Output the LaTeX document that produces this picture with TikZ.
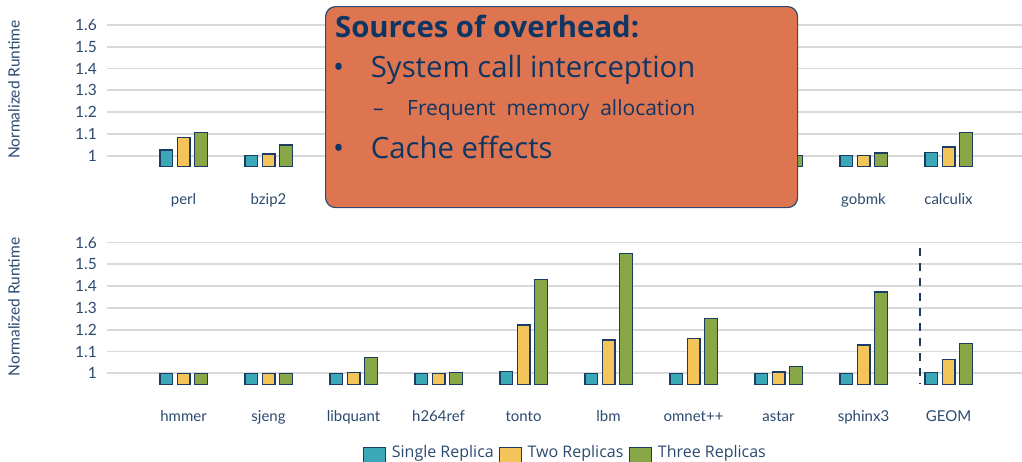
\documentclass[tikz,border=0pt]{standalone}
\usepackage{fontspec}
\setmainfont{Open Sans}
\newfontfamily\chartfont{Lato}
\usetikzlibrary{positioning}
\definecolor{single}{HTML}{3AA8B6}
\definecolor{two}{HTML}{F2C45A}
\definecolor{three}{HTML}{88A847}
\definecolor{baredge}{HTML}{1D3C64}
\definecolor{gridgray}{HTML}{D9D9D9}
\definecolor{chartblue}{HTML}{2B4A70}
\definecolor{boxfill}{HTML}{DD7650}
\definecolor{boxedge}{HTML}{2F4A6E}
\definecolor{boxtext}{HTML}{0F3564}
\tikzstyle{every node}+=[inner sep=0pt,text=chartblue]
\tikzstyle{bar}=[draw=baredge,line width=1.2pt]
\tikzstyle{grid}=[draw=gridgray,line width=1.8pt]
\tikzstyle{tick}=[anchor=east,font=\chartfont\fontsize{15.5}{17}\selectfont]
\tikzstyle{bench}=[anchor=base,font=\chartfont\fontsize{15}{17}\selectfont]
\tikzstyle{axis title}=[rotate=90,font=\chartfont\fontsize{15.5}{17}\selectfont]
\tikzstyle{divider}=[draw=baredge,line width=2.5pt,dash pattern=on 8pt off 7pt]
\tikzstyle{callout}=[draw=boxedge,fill=boxfill,line width=1.2pt,rounded corners=10pt,anchor=north west]
\tikzstyle{head}=[anchor=base west,text=boxtext,font=\bfseries\fontsize{29.3}{32}\selectfont]
\tikzstyle{item}=[anchor=base west,text=boxtext,font=\fontsize{29.3}{32}\selectfont]
\tikzstyle{sub}=[anchor=base west,text=boxtext,font=\fontsize{21}{23}\selectfont]
\tikzstyle{swatch}=[draw=baredge,line width=1.2pt,anchor=north west,minimum width=22.3,minimum height=18]
\tikzstyle{legtext}=[anchor=base west,font=\fontsize{16}{18}\selectfont]
\newcommand{\drawgrid}[2]{
	\foreach \v in {0,...,6}{
		\draw[grid] (107,{#1-\v*21.8}) -- (1022,{#1-\v*21.8});
		\node[tick] (#2tick\v) at (97,{#1-\v*21.8}) {\ifnum\v=0 1\else 1.\v\fi};
	}
}
\newcommand{\drawbars}[2]{
	\foreach \n/\x/\va/\vb/\vc/\lbl in {#2}{
		\draw[bar,fill=single] (\x-23.5,#1+11) rectangle (\x-10.8,{#1-(\va-1)*218});
		\draw[bar,fill=two] (\x-6.2,#1+11) rectangle (\x+6.5,{#1-(\vb-1)*218});
		\draw[bar,fill=three] (\x+11.3,#1+11) rectangle (\x+23.8,{#1-(\vc-1)*218});
		\node[bench] (\n) at (\x,#1+48.3) {\lbl};
	}
}

\begin{document}
\begin{tikzpicture}[x=1pt,y=-1pt]
\useasboundingbox (0,0) rectangle (1022,461);

% upper chart
\drawgrid{155.7}{up}
\node[axis title] (uptitle) at (14,89.5) {Normalized Runtime};
\drawbars{155.7}{perl/183.5/1.026/1.084/1.107/perl,bzip2/268.5/1.0/1.008/1.049/bzip2,gobmk/863.5/1.0/1.002/1.012/gobmk,calculix/948.5/1.016/1.04/1.108/calculix}
\draw[bar,fill=three] (790,166.7) rectangle (802.3,155.7);

% lower chart
\drawgrid{373.3}{low}
\node[axis title] (lowtitle) at (14,307) {Normalized Runtime};
\drawbars{373.3}{hmmer/183.5/0.998/0.998/0.998/hmmer,sjeng/268.5/0.998/0.998/0.998/sjeng,libquant/353.5/1.0/1.003/1.072/libquant,h264ref/438.5/1.0/1.0/1.004/h264ref,tonto/523.5/1.007/1.222/1.429/tonto,lbm/608.5/1.0/1.153/1.548/lbm,omnet/693.5/1.0/1.158/1.253/omnet++,astar/778.5/1.0/1.006/1.031/astar,sphinx3/863.5/1.0/1.13/1.373/sphinx3,GEOM/948.5/1.004/1.064/1.135/GEOM}
\coordinate (geomtop) at (920,248);
\coordinate (geombot) at (920,384.3);
\draw[divider] (geomtop) -- (geombot);

% legend
\node[swatch,fill=single] (legsingle) at (362.7,446.7) {};
\node[legtext] (legsingletxt) at (391.7,457.3) {Single Replica};
\node[swatch,fill=two] (legtwo) at (498.5,446.7) {};
\node[legtext] (legtwotxt) at (527.5,457.3) {Two Replicas};
\node[swatch,fill=three] (legthree) at (628.5,446.7) {};
\node[legtext] (legthreetxt) at (657.7,457.3) {Three Replicas};

% overhead box
\node[callout,minimum width=472,minimum height=201] (srcbox) at (325,6) {};
\node[head] (srchead) at (335,37) {Sources of overhead:};
\node[item] (dot1) at (333,77) {•};
\node[item] (syscall) at (370.7,77) {System call interception};
\node[sub] (dash1) at (373,115) {–};
\node[sub] (memalloc) at (407,115) {Frequent\ \ memory\ \ allocation};
\node[item] (dot2) at (333,158) {•};
\node[item] (cache) at (370.7,158) {Cache effects};
\end{tikzpicture}
\end{document}
